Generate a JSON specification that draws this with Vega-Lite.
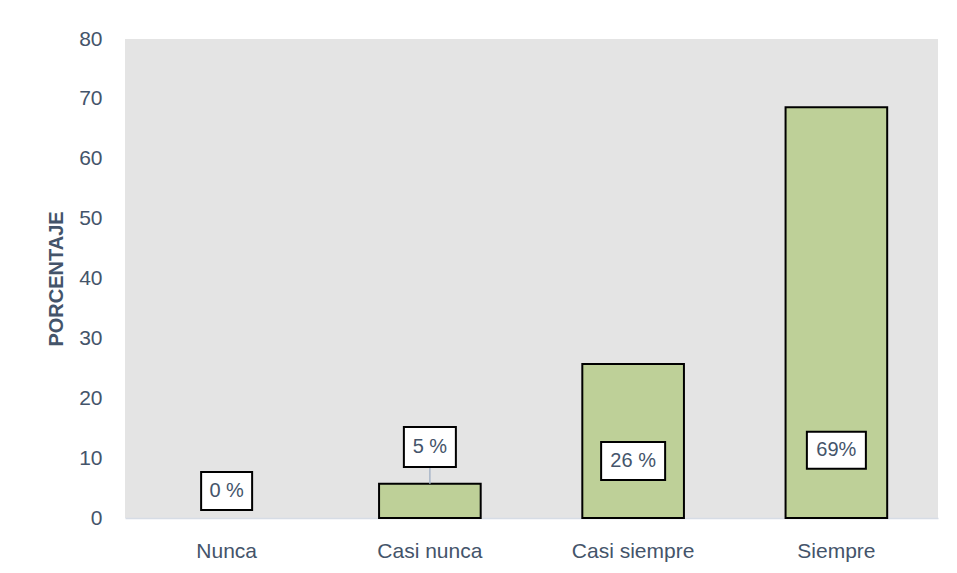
{
  "$schema": "https://vega.github.io/schema/vega-lite/v6.json",
  "width": 813,
  "height": 479,
  "autosize": {"type": "none"},
  "padding": {"left": 125, "top": 39, "right": 19, "bottom": 55},
  "background": "white",
  "config": {
    "view": {"fill": "#e4e4e4", "stroke": null},
    "font": "Liberation Sans",
    "axisY": {"domain": false, "ticks": false, "grid": false, "labelPadding": 23, "labelFontSize": 21, "labelColor": "#44546a", "titleFontSize": 20, "titleFontWeight": "bold", "titleColor": "#44546a", "titlePadding": 12}
  },
  "data": {"values": [
    {"cat": "Nunca", "value": 0, "label": "0 %", "labelY": 4.5, "leader": false},
    {"cat": "Casi nunca", "value": 5.7, "label": "5 %", "labelY": 11.85, "leader": true},
    {"cat": "Casi siempre", "value": 25.7, "label": "26 %", "labelY": 9.5, "leader": false},
    {"cat": "Siempre", "value": 68.6, "label": "69%", "labelY": 11.3, "leader": false}
  ]},
  "encoding": {
    "x": {
      "field": "cat", "type": "nominal",
      "scale": {"domain": ["Nunca", "Casi nunca", "Casi siempre", "Siempre"], "paddingInner": 0.5, "paddingOuter": 0.25},
      "axis": {"title": null, "labelAngle": 0, "labelFontSize": 21, "labelColor": "#44546a", "ticks": false, "domain": true, "domainColor": "#d6dce5", "domainWidth": 1.5, "labelPadding": 22, "grid": false}
    }
  },
  "layer": [
    {
      "transform": [{"filter": "datum.value > 0"}],
      "mark": {"type": "bar", "fill": "#bed098", "stroke": "black", "strokeWidth": 2},
      "encoding": {
        "y": {"field": "value", "type": "quantitative", "title": "PORCENTAJE", "scale": {"domain": [0, 80], "nice": false}, "axis": {"values": [0, 10, 20, 30, 40, 50, 60, 70, 80]}}
      }
    },
    {
      "transform": [{"filter": "datum.leader"}],
      "mark": {"type": "rule", "color": "#a9b6c8", "strokeWidth": 1.5},
      "encoding": {
        "y": {"field": "value", "type": "quantitative", "title": "PORCENTAJE"},
        "y2": {"field": "labelY"}
      }
    },
    {
      "mark": {"type": "point", "filled": true, "fill": "white", "stroke": "black", "strokeWidth": 2, "opacity": 1, "size": 4},
      "encoding": {
        "y": {"field": "labelY", "type": "quantitative", "title": "PORCENTAJE"},
        "shape": {
          "field": "cat", "type": "nominal", "legend": null,
          "scale": {
            "domain": ["Nunca", "Casi nunca", "Casi siempre", "Siempre"],
            "range": ["M-25.5,-19H25.5V19H-25.5Z", "M-26,-20H26V20H-26Z", "M-32,-19H32V19H-32Z", "M-29.5,-18.5H29.5V18.5H-29.5Z"]
          }
        }
      }
    },
    {
      "mark": {"type": "text", "fontSize": 20, "color": "#44546a", "align": "center", "baseline": "middle"},
      "encoding": {
        "y": {"field": "labelY", "type": "quantitative", "title": "PORCENTAJE"},
        "text": {"field": "label"}
      }
    }
  ]
}
